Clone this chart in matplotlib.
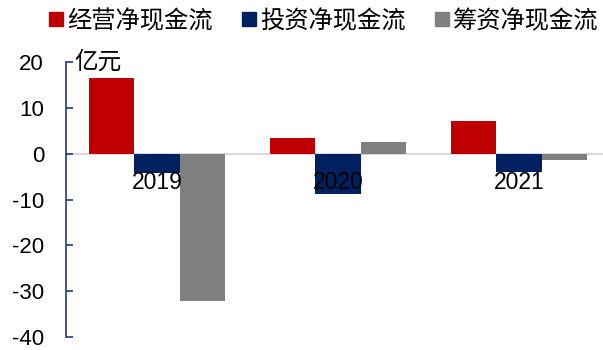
import matplotlib
matplotlib.use('Agg')
import numpy as np
import matplotlib.pyplot as plt
from matplotlib.lines import Line2D

plt.rcParams['font.family'] = ['Liberation Sans', 'Noto Sans CJK SC', 'DejaVu Sans']
plt.rcParams['axes.unicode_minus'] = False

years = ['2019', '2020', '2021']
series = ['经营净现金流', '投资净现金流', '筹资净现金流']
operating = [16.4, 3.5, 7.1]
investing = [-4.3, -8.8, -4.0]
financing = [-32.1, 2.6, -1.4]
colors = ['#C00000', '#002060', '#808080']

fig = plt.figure(figsize=(6.03, 3.5), dpi=100)
ax = fig.add_axes([0.110, 0.037, 0.901, 0.786])

x = np.arange(len(years))
w = 0.25
for k, (vals, c) in enumerate(zip([operating, investing, financing], colors)):
    ax.bar(x + (k - 1) * w, vals, w, color=c, zorder=2)

ax.axhline(0, color='#D9D9D9', lw=1.5, zorder=1)
ax.set_xlim(-0.5, 2.5)
ax.set_ylim(-40, 20)
ax.set_yticks(range(-40, 21, 10))
ax.set_xticks([])

for s in ['top', 'right', 'bottom']:
    ax.spines[s].set_visible(False)
ax.spines['left'].set_color('#1F3A7A')
ax.spines['left'].set_linewidth(1.2)
ax.tick_params(axis='y', direction='in', length=5, width=1.2, color='#1F3A7A',
               labelsize=16, pad=16)

for i, yr in enumerate(years):
    ax.annotate(yr, (i, 0), xytext=(0, -21), textcoords='offset points',
                ha='center', va='center', fontsize=16.5, zorder=3)

ax.text(0.015, 1.0, '亿元', transform=ax.transAxes, fontsize=17,
        family=['Noto Sans CJK SC', 'DejaVu Sans'], ha='left', va='center')

handles = [Line2D([], [], marker='s', ls='', color=c, markersize=10) for c in colors]
fig.legend(handles, series, loc='upper center', bbox_to_anchor=(0.535, 1.04), ncol=3,
           frameon=False, handletextpad=0.05, columnspacing=1.1, handlelength=0.8,
           prop={'family': ['Noto Sans CJK SC', 'DejaVu Sans'], 'size': 17.5})

fig.savefig('out.png', dpi=100)
